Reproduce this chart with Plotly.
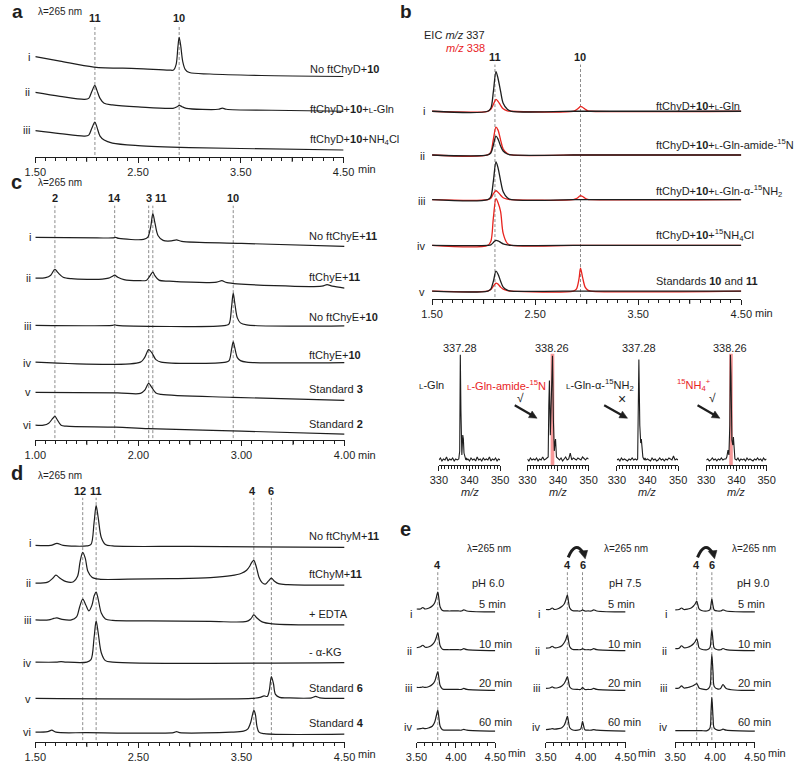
import math
import plotly.graph_objects as go

# ====================== DATA ======================
# Panel a: HPLC traces (time in min, signal in arbitrary units above trace baseline)
A_I = [(1.50,20),(1.74,15.5),(2.07,9.5),(2.49,8),(2.80,6.5),(2.845,6.5),(2.87,12),(2.888,30),(2.90,39.5),
       (2.915,31),(2.935,15),(2.96,7),(3.00,4),(3.20,2.5),(3.70,1),(4.50,0)]
A_II = [(1.50,19),(1.74,15),(1.98,12),(2.02,13),(2.05,20),(2.08,26),(2.10,21),(2.13,13),(2.17,8),(2.25,6.5),
        (2.50,4.5),(2.84,3),(2.88,4.5),(2.90,6),(2.93,4.5),(2.97,3),(3.28,2),(3.32,3.2),(3.36,2),(3.80,1),(4.50,0)]
A_III = [(1.50,19.5),(1.74,16.5),(1.98,14),(2.02,15),(2.05,22),(2.08,28),(2.10,23),(2.13,14),(2.17,10),
         (2.25,7),(2.50,4.5),(3.00,2.5),(3.50,1.5),(4.50,0)]
A_PEAKS = [("11", 2.08), ("10", 2.90)]

# Panel b: EIC m/z 337 (black) and m/z 338 (red)
B_T = [1.50,2.04,2.07,2.095,2.12,2.14,2.165,2.19,2.23,2.27,2.87,2.90,2.925,2.94,2.96,2.985,3.01,3.04,4.50]
B_I_337 = [0,0,3,20,40,33,20,8,2,0,0,0,0,0,0,0,0,0,0]
B_I_338 = [0,0,2,7,12,10,6,2.5,0.5,0,0,1.5,3.5,5,4,2,0.5,0,0]
B_II_337 = [0,0,2,10,19,16,9,4,1,0,0,0,0,0,0,0,0,0,0]
B_II_338 = [0,0,3,16,28,25,15,6,1.5,0,0,0,0,0,0,0,0,0,0]
B_III_337 = [0,0,3,19,38,32,19,8,2,0,0,0,0,0,0,0,0,0,0]
B_III_338 = [0,0,1.5,6,9,7.5,4.5,2,0.5,0,0,1,3,4,3.2,1.5,0.3,0,0]
B_IV_337 = [0,0,0.5,3,5,4.5,3,1.5,0.5,0,0,0,0,0,0,0,0,0,0]
B_IV_338 = [0,0,4,28,47,43,34,12,2,0,0,0,0,0,0,0,0,0,0]
B_V_337 = [0,0,2,10,20,17,10,4,1,0,0,0,0,0,0,0,0,0,0]
B_V_338 = [0,0,1.5,5,8,7,4,2,0.5,0,0,2,12,23,14,4,1,0,0]
B_PEAKS = [("11", 2.11), ("10", 2.94)]

# Panel b mass spectra
MZ = [330,330.5,331,331.5,332,332.5,333,333.5,334,334.5,335,335.5,336,336.5,
      336.8,337.0,337.2,337.5,337.8,338.0,338.2,338.5,338.8,339.0,339.2,339.5,
      340,340.5,341,341.5,342,342.5,343,343.5,344,344.5,345,345.5,346,346.5,347,347.5,348,348.5,349,349.5,350]
SPEC_LGLN = [5,7,4,6,5,8,4,6,5,7,4,6,5,6, 14,111,55,10,30,26,12,7,5,7,5,6,
             4,7,5,6,4,8,5,6,4,7,5,6,5,8,4,6,5,7,4,6,5]
SPEC_AMIDE = [6,4,7,5,6,5,7,4,6,5,8,5,6,7, 8,60,85,30,70,100,110,45,14,22,26,8,
              6,5,7,4,6,8,5,6,12,5,7,6,5,7,6,5,8,6,5,7,6]
SPEC_ALPHA = [5,6,4,7,5,6,5,4,6,5,7,5,6,5, 6,50,106,40,22,26,18,8,6,5,7,5,
              6,5,4,7,5,6,4,5,7,5,6,4,6,5,7,6,5,9,5,6,5]
SPEC_NH4 = [5,6,4,5,7,5,6,4,6,5,7,5,6,6, 8,12,15,10,40,111,90,25,20,28,15,6,
            5,7,4,6,5,6,4,7,5,6,5,4,6,5,7,5,6,4,7,5,6]
SPEC_TOP = ["337.28", "338.26", "337.28", "338.26"]
HIGHLIGHT = (337.6, 338.8)

# Panel c
C_I = [(1.00,9),(1.60,8.5),(1.75,8.5),(1.78,9),(1.81,8),(2.05,7),(2.09,9),(2.12,20),(2.14,33),(2.16,24),
       (2.19,11),(2.24,6),(2.32,5.5),(2.37,6.5),(2.42,5),(3.00,3),(4.00,0)]
C_II = [(1.00,10),(1.10,10.5),(1.15,13),(1.19,19),(1.22,15.5),(1.27,11),(1.35,9.5),(1.65,9),(1.71,10),
        (1.75,12),(1.77,13),(1.80,11),(1.86,8.5),(2.00,7.5),(2.08,8),(2.11,12),(2.14,16),(2.16,12.5),
        (2.20,8),(2.30,7),(2.76,6),(2.81,7.5),(2.86,5.5),(3.78,2),(3.83,3.5),(3.88,2),(4.00,0)]
C_III = [(1.00,0.5),(1.75,0.5),(1.77,1),(1.79,0.5),(2.85,0.5),(2.88,2),(2.905,20),(2.92,33),(2.935,23),
         (2.96,8),(2.99,3),(3.05,1),(4.00,0)]
C_IV = [(1.00,0.5),(2.02,0.5),(2.06,5),(2.10,13),(2.13,10),(2.17,3),(2.22,0.5),(2.85,0.5),(2.88,2),
        (2.905,14),(2.92,21),(2.935,15),(2.96,5),(2.99,2),(3.05,0.5),(4.00,0)]
C_V = [(1.00,8),(1.80,7.5),(2.02,7),(2.06,10),(2.10,17),(2.13,13),(2.17,7.5),(2.22,6),(2.92,3),(4.00,0)]
C_VI = [(1.00,9),(1.08,9),(1.13,11),(1.17,16),(1.19,18),(1.21,15),(1.25,9),(1.30,8),(1.78,7),(2.10,5.5),
        (3.00,3),(4.00,0)]
C_PEAKS = [("2", 1.19, 1.19), ("14", 1.77, 1.77), ("3", 2.10, 2.105), ("11", 2.14, 2.215), ("10", 2.92, 2.92)]

# Panel d
D_I = [(1.50,2),(1.65,2),(1.71,4),(1.77,2),(2.00,1.5),(2.04,3),(2.07,25),(2.09,42),(2.11,30),(2.14,10),
       (2.18,3),(2.25,1.5),(3.00,1),(4.50,0)]
D_II = [(1.50,2),(1.62,3),(1.67,7),(1.70,10),(1.74,7),(1.80,3.5),(1.87,3.5),(1.91,9),(1.935,24),(1.96,33),
        (1.985,27),(2.01,14),(2.05,8),(2.12,6),(2.40,6),(2.80,6.5),(3.20,7.5),(3.40,9.5),(3.50,12),(3.55,15),
        (3.58,19),(3.60,23),(3.62,25),(3.645,18),(3.67,8),(3.70,2.5),(3.73,1),(3.76,4),(3.79,7),(3.82,4),
        (3.86,1.5),(3.95,0.5),(4.50,0)]
D_III = [(1.50,5),(1.63,5),(1.68,6.5),(1.71,7),(1.76,5.5),(1.85,5),(1.90,8),(1.93,18),(1.96,26),(1.99,20),
         (2.02,14),(2.05,20),(2.07,29),(2.09,33),(2.11,26),(2.14,12),(2.18,6),(2.25,4.5),(2.60,4),(3.20,3.5),
         (3.55,3.5),(3.59,6),(3.62,10),(3.65,7),(3.70,3),(3.80,1),(4.50,0)]
D_IV = [(1.50,0.5),(1.70,0.5),(1.75,1),(1.80,0.5),(2.00,0.5),(2.04,3),(2.07,25),(2.09,42),(2.11,30),
        (2.14,10),(2.18,2),(2.25,0.5),(4.50,0)]
D_V = [(1.50,0),(3.60,0),(3.68,1),(3.72,2.5),(3.75,2),(3.77,8),(3.79,22),(3.81,15),(3.83,4),(3.87,1),
       (3.95,0.5),(4.18,0.5),(4.22,2),(4.26,0.5),(4.50,0)]
D_VI = [(1.50,2),(1.62,2.5),(1.66,4),(1.70,2),(2.00,1.5),(2.84,1.5),(2.87,2.5),(2.90,1.5),(3.40,2),
        (3.52,3),(3.56,5),(3.59,12),(3.61,21),(3.62,24),(3.635,20),(3.65,8),(3.67,2),(3.72,0.5),(4.50,0)]
D_PEAKS = [("12", 1.96, 1.93), ("11", 2.09, 2.09), ("4", 3.62, 3.61), ("6", 3.79, 3.79)]

# Panel e (three pH values, four time points each)
E_T = [3.50,3.55,3.58,3.61,3.66,3.70,3.73,3.75,3.77,3.785,3.80,3.83,3.90,3.935,3.95,3.96,3.975,3.99,
       4.03,4.07,4.10,4.14,4.50]
E1_5 = [3,3,4.5,3,4,6,9,14,20,13,5,1.5,1,1,1,1,1,1,1,1,2.2,1,0]
E1_10 = [3,4,5.5,3.5,4,6,9,13,18,12,5,1.5,1,1,1,1,1,1,1,1,2,1,0]
E1_20 = [3,3,3.5,3,4,6,9,14,19,12,5,1.5,1,1,1,1,1,1,1,1,2,1,0]
E1_60 = [2,2.5,3,2.5,3.5,5,9,15,21,13,5,1.5,1,1,1,1,1,1,1,1,1.8,1,0]
E2_5 = [2.5,2.5,4,2.5,3.5,5.5,8,12,17,10,4,1.5,1,1,1.5,2,1.5,1,1,1,2.2,1,0]
E2_10 = [2.5,3,4.5,3,3.5,5,8,11,16,10,4,1.5,1,1,1.5,2,1.5,1,1,1,2,1,0]
E2_20 = [2,2.5,3.5,2.5,3,4.5,7,10,14,9,3.5,1.5,1,1,2,3,2,1,1,1,2,1,0]
E2_60 = [1.5,2,2.5,2,2.5,3.5,6,10,15,9,3.5,1.5,1,2,6,10,5,1.5,1,1,1.5,1,0]
E3_5 = [2,2.5,4,2.5,3,4,6,8,11,7,3,1.5,1,2,8,13,6,2,1,1,2.2,1,0]
E3_10 = [2,2.5,5,3,3.5,5,7,9,12,8,3,1.5,1,3,13,21,10,2.5,1,1,2.2,1,0]
E3_20 = [2,2.5,4.5,2.5,3,4,5,6,7,5,2.5,1.5,1,4,22,36,18,4,1.5,2,6,2,0]
E3_60 = [0.5,0.5,0.5,0.5,0.5,0.5,0.5,0.5,0.5,0.5,0.5,0.5,0.5,3,20,34,14,3,1,1,2,1,0]
E_TIMES = ["5 min", "10 min", "20 min", "60 min"]
E_PH = ["pH 6.0", "pH 7.5", "pH 9.0"]
PEAK4_T, PEAK6_T = 3.77, 3.96

ROMAN = ["i", "ii", "iii", "iv", "v", "vi"]
A_LABELS = ["No ftChyD+<b>10</b>", "ftChyD+<b>10</b>+<span style='font-size:8px'>L</span>-Gln",
            "ftChyD+<b>10</b>+NH<sub>4</sub>Cl"]
B_LABELS = ["ftChyD+<b>10</b>+<span style='font-size:8px'>L</span>-Gln",
            "ftChyD+<b>10</b>+<span style='font-size:8px'>L</span>-Gln-amide-<sup>15</sup>N",
            "ftChyD+<b>10</b>+<span style='font-size:8px'>L</span>-Gln-α-<sup>15</sup>NH<sub>2</sub>",
            "ftChyD+<b>10</b>+<sup>15</sup>NH<sub>4</sub>Cl",
            "Standards <b>10</b> and <b>11</b>"]
C_LABELS = ["No ftChyE+<b>11</b>", "ftChyE+<b>11</b>", "No ftChyE+<b>10</b>", "ftChyE+<b>10</b>",
            "Standard <b>3</b>", "Standard <b>2</b>"]
D_LABELS = ["No ftChyM+<b>11</b>", "ftChyM+<b>11</b>", "+ EDTA", "- α-KG", "Standard <b>6</b>", "Standard <b>4</b>"]

# ====================== STYLE / LAYOUT ======================
W, H = 798, 763
FONT = "Liberation Sans, Arial, Helvetica, sans-serif"
INK = "#1e1e1e"
RED = "#e8241f"
DASH = "#8c8c8c"

fig = go.Figure()
axes = {}
shapes = []
ann = []
count = [0]


def fx(p):
    return p / W


def fy(p):
    return 1 - p / H


def make_axis(x0, x1, ybot, ytop, xr, tvals, ttext, minor_dtick, extra_major=()):
    count[0] += 1
    s = "" if count[0] == 1 else str(count[0])
    axes["xaxis" + s] = dict(
        domain=[fx(x0), fx(x1)], anchor="y" + s, range=xr,
        showline=True, linewidth=1, linecolor=INK,
        ticks="outside", ticklen=5, tickwidth=1, tickcolor=INK,
        tickmode="array", tickvals=tvals, ticktext=ttext,
        tickfont=dict(family=FONT, size=11, color=INK),
        showgrid=False, zeroline=False, fixedrange=True,
        minor=dict(ticks="outside", ticklen=3, tickwidth=1, tickcolor=INK,
                   dtick=minor_dtick, tick0=xr[0], showgrid=False))
    axes["yaxis" + s] = dict(domain=[fy(ybot), fy(ytop)], anchor="x" + s,
                             range=[0, ybot - ytop], visible=False, fixedrange=True)
    # unlabeled major ticks (longer than minor ticks)
    for t in extra_major:
        shapes.append(dict(type="line", xref="x" + s, yref="paper", x0=t, x1=t,
                           y0=fy(ybot), y1=fy(ybot + 5), line=dict(color=INK, width=1)))
    return "x" + s, "y" + s


def curve(xa, ya, t, s, off, color=INK, width=1.2, shape="spline"):
    fig.add_trace(go.Scatter(
        x=list(t), y=[off + v for v in s], mode="lines",
        line=dict(color=color, width=width, shape=shape, smoothing=0.9),
        xaxis=xa, yaxis=ya, hoverinfo="skip", showlegend=False))


def pairs(xa, ya, data, off, **kw):
    t = [p[0] for p in data]
    s = [p[1] for p in data]
    curve(xa, ya, t, s, off, **kw)


def vdash(xa, t, ytop, ybot):
    shapes.append(dict(type="line", xref=xa, yref="paper", x0=t, x1=t, y0=fy(ybot), y1=fy(ytop),
                       line=dict(color=DASH, width=1, dash="3px,2px"), layer="below"))


def txt(x, y, s, size=11, color=INK, xa="center", ya_="middle"):
    ann.append(dict(xref="paper", yref="paper", x=fx(x), y=fy(y), text=s, showarrow=False,
                    xanchor=xa, yanchor=ya_, borderpad=0,
                    font=dict(family=FONT, size=size, color=color)))


def arrow(x0, y0, x1, y1, head=8.0, half=3.8):
    L = math.hypot(x1 - x0, y1 - y0)
    ux, uy = (x1 - x0) / L, (y1 - y0) / L
    bx, by = x1 - head * ux, y1 - head * uy
    px_, py_ = -uy * half, ux * half
    shapes.append(dict(type="line", xref="paper", yref="paper", x0=fx(x0), y0=fy(y0),
                       x1=fx(bx + ux), y1=fy(by + uy), line=dict(color=INK, width=2.2)))
    pts = [(x1, y1), (bx + px_, by + py_), (bx - px_, by - py_)]
    path = "M " + " L ".join("%.5f,%.5f" % (fx(a), fy(b)) for a, b in pts) + " Z"
    shapes.append(dict(type="path", xref="paper", yref="paper", path=path,
                       fillcolor=INK, line=dict(color=INK, width=0.5)))


TV15 = [1.5, 2.5, 3.5, 4.5]
TT15 = ["1.50", "2.50", "3.50", "4.50"]
MID15 = [2.0, 3.0, 4.0]

# ---------------- panel a ----------------
xa, ya = make_axis(25, 342, 158, 20, [1.5, 4.5], TV15, TT15, 0.1, MID15)
for name, t in A_PEAKS:
    vdash(xa, t, 25, 156)
    fig.add_annotation(xref=xa, yref="paper", x=t, y=fy(18), text="<b>%s</b>" % name, showarrow=False,
                       font=dict(family=FONT, size=11, color=INK), yanchor="middle")
A_OFF = [81, 46, 7]
for data, off in zip([A_I, A_II, A_III], A_OFF):
    pairs(xa, ya, data, off)
for i, (yy, ly) in enumerate(zip([57, 93, 131], [69, 110, 141])):
    txt(21, yy, ROMAN[i], xa="right")
    txt(306, ly, A_LABELS[i], xa="left")
txt(7, 0, "<b>a</b>", size=19, ya_="top")
txt(27, 12, "λ=265 nm", size=10, xa="left")
txt(356, 170, "min", xa="left")

# ---------------- panel b ----------------
xb, yb = make_axis(433, 751, 301, 60, [1.5, 4.5], TV15, TT15, 0.1, MID15)
for name, t in B_PEAKS:
    vdash(xb, t, 65, 299)
    fig.add_annotation(xref=xb, yref="paper", x=t, y=fy(57), text="<b>%s</b>" % name, showarrow=False,
                       font=dict(family=FONT, size=11, color=INK), yanchor="middle")
B_OFF = [189, 145, 100, 54, 8]
B_337 = [B_I_337, B_II_337, B_III_337, B_IV_337, B_V_337]
B_338 = [B_I_338, B_II_338, B_III_338, B_IV_338, B_V_338]
for s337, s338, off in zip(B_337, B_338, B_OFF):
    curve(xb, yb, B_T, s338, off, color=RED, width=1.3)
    curve(xb, yb, B_T, s337, off, color=INK, width=1.3)
for i, (yy, ly) in enumerate(zip([112, 157, 202, 248, 294], [107, 145, 192, 237, 283])):
    txt(427, yy, ROMAN[i], xa="right")
    txt(662, ly, B_LABELS[i], xa="left")
txt(406, 0, "<b>b</b>", size=19, ya_="top")
txt(488, 35, "EIC <i>m/z</i> 337", xa="right")
txt(488, 48, "<i>m/z</i> 338", color=RED, xa="right")
txt(764, 315, "min", xa="left")

# mass spectra
SPEC_X = [(440, 503), (531, 594), (623, 686), (715, 777)]
SPECS = [SPEC_LGLN, SPEC_AMIDE, SPEC_ALPHA, SPEC_NH4]
for k, ((x0, x1), spec) in enumerate(zip(SPEC_X, SPECS)):
    xs, ys = make_axis(x0, x1, 468, 350, [330, 350], [330, 340, 350], ["330", "340", "350"], 1)
    if k in (1, 3):
        shapes.append(dict(type="rect", xref=xs, yref=ys, x0=HIGHLIGHT[0], x1=HIGHLIGHT[1], y0=0, y1=112,
                           fillcolor="rgba(238,70,70,0.55)", line=dict(width=0), layer="below"))
    curve(xs, ys, MZ, spec, 0, color=INK, width=1.1, shape="linear")
    peak_mz = MZ[spec.index(max(spec))]
    fig.add_annotation(xref=xs, yref="paper", x=peak_mz, y=fy(350), text=SPEC_TOP[k], showarrow=False,
                       font=dict(family=FONT, size=11, color=INK), yanchor="middle")
    txt((x0 + x1) / 2, 495, "<i>m/z</i>")
LGLN = "<span style='font-size:8px'>L</span>-Gln"
txt(432, 388, LGLN)
txt(510, 388, LGLN + "-amide-<sup>15</sup>N", color=RED)
txt(606, 388, LGLN + "-α-<sup>15</sup>NH<sub>2</sub>")
txt(702, 388, "<sup>15</sup>NH<sub>4</sub><sup>+</sup>", color=RED)
txt(524, 401, "√", size=12)
txt(628, 402, "×", size=14)
txt(721, 401, "√", size=12)
arrow(518, 408, 541, 421)
arrow(610, 408, 634, 421)
arrow(706, 408, 729, 421)

# ---------------- panel c ----------------
xc, yc = make_axis(25, 343, 443, 205, [1.0, 4.0], [1.0, 2.0, 3.0, 4.0],
                   ["1.00", "2.00", "3.00", "4.00"], 0.1, [1.5, 2.5, 3.5])
for name, t, lx in C_PEAKS:
    vdash(xc, t, 207, 441)
    fig.add_annotation(xref=xc, yref="paper", x=lx, y=fy(199), text="<b>%s</b>" % name, showarrow=False,
                       font=dict(family=FONT, size=11, color=INK), yanchor="middle")
C_OFF = [195, 153, 115, 78, 40, 6]
for data, off in zip([C_I, C_II, C_III, C_IV, C_V, C_VI], C_OFF):
    pairs(xc, yc, data, off)
for i, (yy, ly) in enumerate(zip([239, 280, 328, 365, 395, 428], [238, 279, 319, 357, 392, 427])):
    txt(22, yy, ROMAN[i], xa="right")
    txt(305, ly, C_LABELS[i], xa="left")
txt(6, 183, "<b>c</b>", size=20)
txt(27, 184, "λ=265 nm", size=10, xa="left")
txt(356, 458, "min", xa="left")

# ---------------- panel d ----------------
xd, yd = make_axis(25, 343, 747, 500, [1.5, 4.5], TV15, TT15, 0.1, MID15)
for name, t, lx in D_PEAKS:
    vdash(xd, t, 501, 745)
    fig.add_annotation(xref=xd, yref="paper", x=lx, y=fy(494), text="<b>%s</b>" % name, showarrow=False,
                       font=dict(family=FONT, size=11, color=INK), yanchor="middle")
D_OFF = [196, 158, 118, 80, 44, 8]
for data, off in zip([D_I, D_II, D_III, D_IV, D_V, D_VI], D_OFF):
    pairs(xd, yd, data, off)
for i, (yy, ly) in enumerate(zip([547, 587, 624, 667, 704, 737], [540, 578, 618, 656, 693, 728])):
    txt(22, yy, ROMAN[i], xa="right")
    txt(305, ly, D_LABELS[i], xa="left")
txt(6, 476, "<b>d</b>", size=20)
txt(27, 479, "λ=265 nm", size=10, xa="left")
txt(356, 759, "min", xa="left")

# ---------------- panel e ----------------
txt(406, 532, "<b>e</b>", size=20)
E_X = [(417, 498), (550, 632), (683, 765)]
E_SETS = [[E1_5, E1_10, E1_20, E1_60], [E2_5, E2_10, E2_20, E2_60], [E3_5, E3_10, E3_20, E3_60]]
E_OFF = [131, 92, 52, 11]
E_LAB_X = [480, 613, 747]
E_ROMAN_X = [413, 545, 676]
E_HEAD_X = [492, 632, 764]
for k, ((x0, x1), sets) in enumerate(zip(E_X, E_SETS)):
    xe, ye = make_axis(x0, x1, 747, 575, [3.5, 4.5], [3.5, 4.0, 4.5], ["3.50", "4.00", "4.50"], 0.1)
    peaks = [("4", PEAK4_T)] if k == 0 else [("4", PEAK4_T), ("6", PEAK6_T)]
    for name, t in peaks:
        vdash(xe, t, 576, 745)
        fig.add_annotation(xref=xe, yref="paper", x=t, y=fy(569), text="<b>%s</b>" % name, showarrow=False,
                           font=dict(family=FONT, size=11, color=INK), yanchor="middle")
    for s, off in zip(sets, E_OFF):
        curve(xe, ye, E_T, s, off)
    for i, (yy, ly) in enumerate(zip([618, 655, 693, 732], [608, 648, 688, 727])):
        txt(E_ROMAN_X[k], yy, ROMAN[i], xa="right")
        txt(E_LAB_X[k], ly, E_TIMES[i], xa="left")
    txt(E_HEAD_X[k], 552, "λ=265 nm", size=10)
    txt(E_HEAD_X[k] - 1, 587, E_PH[k], size=11)
    txt(x1 + 12, 758, "min", xa="left")

# curved arrows 4 -> 6 in e (pH 7.5 and 9.0)
for dx in (0, 133):
    p = lambda x, y: "%.5f,%.5f" % (fx(x + dx), fy(y))
    shapes.append(dict(type="path", xref="paper", yref="paper",
                       path="M %s Q %s %s" % (p(573, 561), p(580.5, 544), p(588, 556)),
                       line=dict(color=INK, width=3)))
    shapes.append(dict(type="path", xref="paper", yref="paper",
                       path="M %s L %s L %s Z" % (p(584, 555), p(593, 554), p(590.5, 562.5)),
                       fillcolor=INK, line=dict(color=INK, width=0.5)))

fig.update_layout(
    width=W, height=H, margin=dict(l=0, r=0, t=0, b=0),
    paper_bgcolor="white", plot_bgcolor="rgba(0,0,0,0)",
    showlegend=False, font=dict(family=FONT, color=INK),
    shapes=shapes, annotations=list(fig.layout.annotations) + ann, **axes)

fig.write_html("out.html", config={"displayModeBar": False, "staticPlot": True},
               post_script="document.body.style.margin='0px';")
